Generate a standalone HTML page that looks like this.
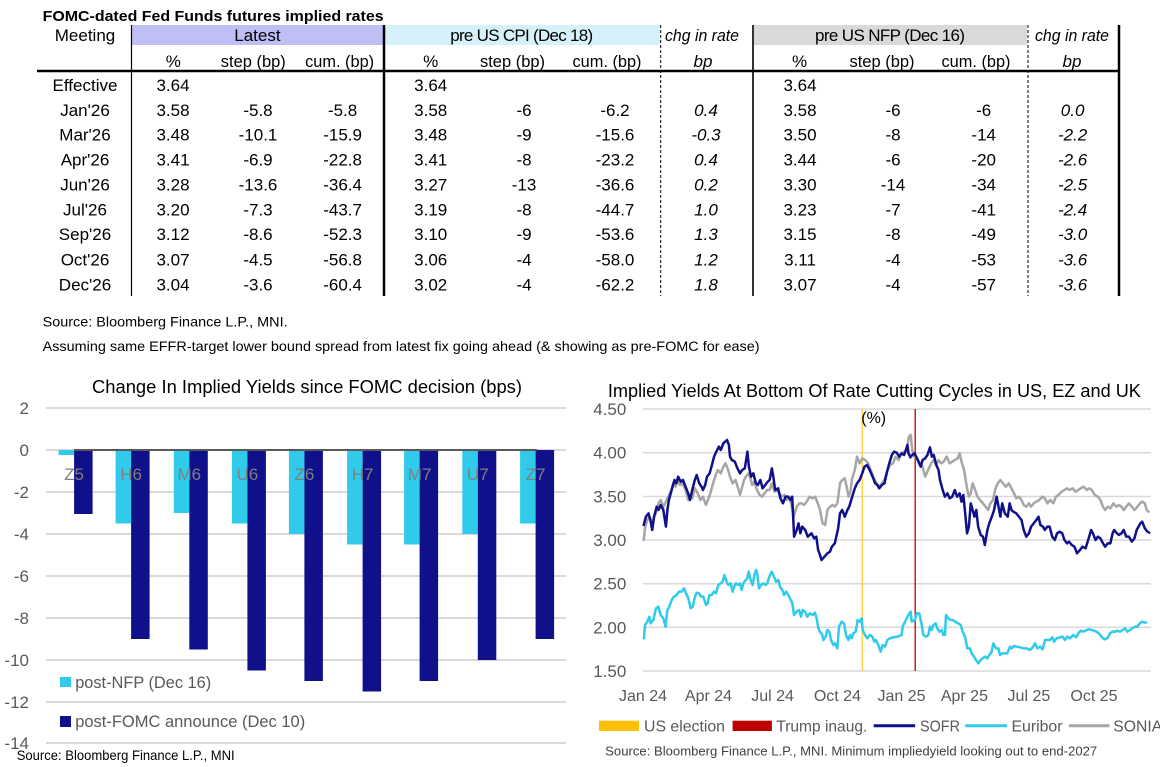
<!DOCTYPE html>
<html><head><meta charset="utf-8"><style>
html,body{margin:0;padding:0;background:#fff;}
svg{display:block;font-family:"Liberation Sans",Arial,sans-serif;}
</style></head><body>
<svg width="1160" height="767" viewBox="0 0 1160 767" xmlns="http://www.w3.org/2000/svg">
<rect width="1160" height="767" fill="#fff"/>
<!-- TABLE -->
<text x="42.6" y="21" font-size="15" font-weight="bold" textLength="341" lengthAdjust="spacingAndGlyphs">FOMC-dated Fed Funds futures implied rates</text>
<rect x="131.5" y="25" width="252" height="20" fill="#BFBFF6"/>
<rect x="385" y="25" width="275" height="20" fill="#D5F2FA"/>
<rect x="754" y="25" width="273" height="20" fill="#D9D9D9"/>
<g font-size="17" text-anchor="middle" fill="#000">
<text x="85" y="41">Meeting</text>
<text x="257.4" y="41">Latest</text>
<text x="521.7" y="41" textLength="143" lengthAdjust="spacing">pre US CPI (Dec 18)</text>
<text x="702" y="41" font-style="italic" textLength="74" lengthAdjust="spacingAndGlyphs">chg in rate</text>
<text x="890" y="41" textLength="150" lengthAdjust="spacing">pre US NFP (Dec 16)</text>
<text x="1072" y="41" font-style="italic" textLength="74" lengthAdjust="spacingAndGlyphs">chg in rate</text>
<text x="173.3" y="67">%</text>
<text x="253.3" y="67" textLength="65" lengthAdjust="spacingAndGlyphs">step (bp)</text>
<text x="339.6" y="67" textLength="69" lengthAdjust="spacingAndGlyphs">cum. (bp)</text>
<text x="430.7" y="67">%</text>
<text x="512.5" y="67" textLength="65" lengthAdjust="spacingAndGlyphs">step (bp)</text>
<text x="607" y="67" textLength="69" lengthAdjust="spacingAndGlyphs">cum. (bp)</text>
<text x="703" y="67" font-style="italic">bp</text>
<text x="799.6" y="67">%</text>
<text x="882" y="67" textLength="65" lengthAdjust="spacingAndGlyphs">step (bp)</text>
<text x="976" y="67" textLength="69" lengthAdjust="spacingAndGlyphs">cum. (bp)</text>
<text x="1072" y="67" font-style="italic">bp</text>
</g>
<line x1="37" y1="71" x2="1120" y2="71" stroke="#000" stroke-width="2.5"/>
<line x1="131.5" y1="25" x2="131.5" y2="296" stroke="#000" stroke-width="1.2"/>
<line x1="384" y1="25" x2="384" y2="296" stroke="#000" stroke-width="2.5"/>
<line x1="660.7" y1="25" x2="660.7" y2="296" stroke="#000" stroke-width="1" stroke-dasharray="3,2"/>
<line x1="753" y1="25" x2="753" y2="296" stroke="#000" stroke-width="1.6"/>
<line x1="1028" y1="25" x2="1028" y2="296" stroke="#000" stroke-width="1" stroke-dasharray="3,2"/>
<line x1="1119" y1="25" x2="1119" y2="296" stroke="#000" stroke-width="2.5"/>
<g font-size="17" text-anchor="middle" fill="#000">
<text x="85" y="91">Effective</text><text x="173" y="91">3.64</text><text x="430.7" y="91">3.64</text><text x="800" y="91">3.64</text>
<text x="85" y="116">Jan'26</text><text x="173" y="116">3.58</text><text x="258" y="116">-5.8</text><text x="342.6" y="116">-5.8</text><text x="430.7" y="116">3.58</text><text x="524" y="116">-6</text><text x="615" y="116">-6.2</text><text x="706" y="116" font-style="italic">0.4</text><text x="800" y="116">3.58</text><text x="893" y="116">-6</text><text x="983.7" y="116">-6</text><text x="1072.6" y="116" font-style="italic">0.0</text>
<text x="85" y="140.5">Mar'26</text><text x="173" y="140.5">3.48</text><text x="258" y="140.5">-10.1</text><text x="342.6" y="140.5">-15.9</text><text x="430.7" y="140.5">3.48</text><text x="524" y="140.5">-9</text><text x="615" y="140.5">-15.6</text><text x="706" y="140.5" font-style="italic">-0.3</text><text x="800" y="140.5">3.50</text><text x="893" y="140.5">-8</text><text x="983.7" y="140.5">-14</text><text x="1072.6" y="140.5" font-style="italic">-2.2</text>
<text x="85" y="165.3">Apr'26</text><text x="173" y="165.3">3.41</text><text x="258" y="165.3">-6.9</text><text x="342.6" y="165.3">-22.8</text><text x="430.7" y="165.3">3.41</text><text x="524" y="165.3">-8</text><text x="615" y="165.3">-23.2</text><text x="706" y="165.3" font-style="italic">0.4</text><text x="800" y="165.3">3.44</text><text x="893" y="165.3">-6</text><text x="983.7" y="165.3">-20</text><text x="1072.6" y="165.3" font-style="italic">-2.6</text>
<text x="85" y="190.3">Jun'26</text><text x="173" y="190.3">3.28</text><text x="258" y="190.3">-13.6</text><text x="342.6" y="190.3">-36.4</text><text x="430.7" y="190.3">3.27</text><text x="524" y="190.3">-13</text><text x="615" y="190.3">-36.6</text><text x="706" y="190.3" font-style="italic">0.2</text><text x="800" y="190.3">3.30</text><text x="893" y="190.3">-14</text><text x="983.7" y="190.3">-34</text><text x="1072.6" y="190.3" font-style="italic">-2.5</text>
<text x="85" y="215.3">Jul'26</text><text x="173" y="215.3">3.20</text><text x="258" y="215.3">-7.3</text><text x="342.6" y="215.3">-43.7</text><text x="430.7" y="215.3">3.19</text><text x="524" y="215.3">-8</text><text x="615" y="215.3">-44.7</text><text x="706" y="215.3" font-style="italic">1.0</text><text x="800" y="215.3">3.23</text><text x="893" y="215.3">-7</text><text x="983.7" y="215.3">-41</text><text x="1072.6" y="215.3" font-style="italic">-2.4</text>
<text x="85" y="240">Sep'26</text><text x="173" y="240">3.12</text><text x="258" y="240">-8.6</text><text x="342.6" y="240">-52.3</text><text x="430.7" y="240">3.10</text><text x="524" y="240">-9</text><text x="615" y="240">-53.6</text><text x="706" y="240" font-style="italic">1.3</text><text x="800" y="240">3.15</text><text x="893" y="240">-8</text><text x="983.7" y="240">-49</text><text x="1072.6" y="240" font-style="italic">-3.0</text>
<text x="85" y="265.3">Oct'26</text><text x="173" y="265.3">3.07</text><text x="258" y="265.3">-4.5</text><text x="342.6" y="265.3">-56.8</text><text x="430.7" y="265.3">3.06</text><text x="524" y="265.3">-4</text><text x="615" y="265.3">-58.0</text><text x="706" y="265.3" font-style="italic">1.2</text><text x="800" y="265.3">3.11</text><text x="893" y="265.3">-4</text><text x="983.7" y="265.3">-53</text><text x="1072.6" y="265.3" font-style="italic">-3.6</text>
<text x="85" y="290.3">Dec'26</text><text x="173" y="290.3">3.04</text><text x="258" y="290.3">-3.6</text><text x="342.6" y="290.3">-60.4</text><text x="430.7" y="290.3">3.02</text><text x="524" y="290.3">-4</text><text x="615" y="290.3">-62.2</text><text x="706" y="290.3" font-style="italic">1.8</text><text x="800" y="290.3">3.07</text><text x="893" y="290.3">-4</text><text x="983.7" y="290.3">-57</text><text x="1072.6" y="290.3" font-style="italic">-3.6</text>
</g>
<text x="42.6" y="326.5" font-size="14" textLength="245" lengthAdjust="spacingAndGlyphs">Source: Bloomberg Finance L.P., MNI.</text>
<text x="42.6" y="351" font-size="14" textLength="717" lengthAdjust="spacingAndGlyphs">Assuming same  EFFR-target lower bound spread from latest fix going ahead (&amp; showing as pre-FOMC for ease)</text>

<!-- LEFT CHART -->
<text x="307" y="393" font-size="18" text-anchor="middle" fill="#000" textLength="430" lengthAdjust="spacingAndGlyphs">Change In Implied Yields since FOMC decision (bps)</text>
<g stroke="#D9D9D9" stroke-width="2">
<line x1="46" y1="408" x2="566" y2="408"/><line x1="46" y1="450" x2="566" y2="450"/><line x1="46" y1="492" x2="566" y2="492"/><line x1="46" y1="534" x2="566" y2="534"/><line x1="46" y1="576" x2="566" y2="576"/><line x1="46" y1="618" x2="566" y2="618"/><line x1="46" y1="660" x2="566" y2="660"/><line x1="46" y1="702" x2="566" y2="702"/><line x1="46" y1="743" x2="566" y2="743"/>
</g>
<g font-size="17" fill="#595959" text-anchor="end">
<text x="29" y="414">2</text><text x="29" y="456">0</text><text x="29" y="498">-2</text><text x="29" y="540">-4</text><text x="29" y="582">-6</text><text x="29" y="624">-8</text><text x="29" y="666">-10</text><text x="29" y="708">-12</text><text x="29" y="749">-14</text>
</g>
<g fill="#30CBEA">
<rect x="58.6" y="450" width="15.5" height="5"/>
<rect x="115.6" y="450" width="15.5" height="73.5"/>
<rect x="173.8" y="450" width="15.5" height="63"/>
<rect x="231.9" y="450" width="15.5" height="73.5"/>
<rect x="288.9" y="450" width="15.5" height="84"/>
<rect x="347.1" y="450" width="15.5" height="94.5"/>
<rect x="404.1" y="450" width="15.5" height="94.5"/>
<rect x="462.3" y="450" width="15.5" height="84"/>
<rect x="520.1" y="450" width="15.5" height="73.5"/>
</g>
<g fill="#10118A">
<rect x="74.1" y="450" width="18.5" height="64"/>
<rect x="131.1" y="450" width="18.5" height="189"/>
<rect x="189.3" y="450" width="18.5" height="199.5"/>
<rect x="247.4" y="450" width="18.5" height="220.5"/>
<rect x="304.4" y="450" width="18.5" height="231"/>
<rect x="362.6" y="450" width="18.5" height="241.5"/>
<rect x="419.6" y="450" width="18.5" height="231"/>
<rect x="477.8" y="450" width="18.5" height="210"/>
<rect x="535.6" y="450" width="18.5" height="189"/>
</g>
<line x1="74" y1="450" x2="537" y2="450" stroke="#595959" stroke-width="2"/>
<g font-size="17" fill="#7F7F7F" text-anchor="middle">
<text x="74.1" y="480">Z5</text><text x="131.1" y="480">H6</text><text x="189.3" y="480">M6</text><text x="247.4" y="480">U6</text><text x="304.4" y="480">Z6</text><text x="362.6" y="480">H7</text><text x="419.6" y="480">M7</text><text x="477.8" y="480">U7</text><text x="535.6" y="480">Z7</text>
</g>
<rect x="60" y="677" width="11" height="10" fill="#30CBEA"/>
<text x="75.2" y="688" font-size="17" fill="#595959" textLength="136" lengthAdjust="spacingAndGlyphs">post-NFP (Dec 16)</text>
<rect x="60" y="716" width="11" height="11" fill="#10118A"/>
<text x="75.2" y="727" font-size="17" fill="#595959" textLength="230" lengthAdjust="spacingAndGlyphs">post-FOMC announce (Dec 10)</text>
<text x="16.7" y="760" font-size="14" fill="#000" textLength="218" lengthAdjust="spacingAndGlyphs">Source: Bloomberg Finance L.P., MNI</text>

<!-- RIGHT CHART -->
<text x="874.4" y="397" font-size="18" text-anchor="middle" fill="#000" textLength="533" lengthAdjust="spacingAndGlyphs">Implied Yields At Bottom Of Rate Cutting Cycles in US, EZ and UK</text>
<g stroke="#D9D9D9" stroke-width="1.5">
<line x1="643" y1="409" x2="1151" y2="409"/><line x1="643" y1="452.7" x2="1151" y2="452.7"/><line x1="643" y1="496.5" x2="1151" y2="496.5"/><line x1="643" y1="540" x2="1151" y2="540"/><line x1="643" y1="583.7" x2="1151" y2="583.7"/><line x1="643" y1="627.3" x2="1151" y2="627.3"/><line x1="643" y1="671" x2="1151" y2="671"/>
</g>
<g font-size="17" fill="#595959" text-anchor="end">
<text x="626.3" y="415">4.50</text><text x="626.3" y="458.7">4.00</text><text x="626.3" y="502.5">3.50</text><text x="626.3" y="546">3.00</text><text x="626.3" y="589.7">2.50</text><text x="626.3" y="633.3">2.00</text><text x="626.3" y="677">1.50</text>
</g>
<g font-size="16" fill="#595959" text-anchor="middle">
<text x="643" y="701">Jan 24</text><text x="708.5" y="701">Apr 24</text><text x="772.6" y="701">Jul 24</text><text x="837.4" y="701">Oct 24</text><text x="901.5" y="701">Jan 25</text><text x="964.4" y="701">Apr 25</text><text x="1028.9" y="701">Jul 25</text><text x="1094" y="701">Oct 25</text>
</g>
<line x1="862.2" y1="409" x2="862.2" y2="671" stroke="#FFC000" stroke-width="1"/>
<line x1="915.2" y1="409" x2="915.2" y2="671" stroke="#C00000" stroke-width="1.3"/>
<text x="873.7" y="423" font-size="16" text-anchor="middle" fill="#000">(%)</text>
<g transform="translate(580,370) scale(0.37037,0.33333)" fill="none" stroke-linejoin="round" stroke-linecap="round">
<polyline vector-effect="non-scaling-stroke" stroke="#A6A6A6" stroke-width="2.5" points="172,510 176,470 182,450 188,440 195,465 200,440 205,430 212,400 218,390 225,410 230,400 238,380 245,365 252,340 258,350 265,330 270,345 277,340 285,360 292,390 297,375 303,385 310,355 318,370 325,390 332,380 340,405 347,385 352,370 358,345 365,320 372,300 380,310 387,290 393,280 400,300 405,320 412,340 420,330 427,355 432,375 438,350 443,330 448,320 455,310 460,325 465,345 470,335 478,360 485,375 492,380 498,370 505,360 512,360 518,340 525,365 532,360 538,370 545,380 552,375 558,390 565,380 570,400 577,440 585,410 592,400 598,400 605,405 612,395 620,380 628,385 635,380 642,400 648,420 655,460 662,465 668,420 675,410 682,405 688,410 695,400 702,340 708,330 715,325 720,350 725,380 730,365 735,325 742,300 748,260 755,280 762,265 770,270 778,280 785,300 792,320 800,340 808,350 815,340 822,330 830,300 837,285 845,280 852,260 860,270 868,250 875,245 882,240 888,200 893,195 897,240 903,260 910,265 918,280 925,290 932,320 940,300 948,280 955,270 962,285 968,270 975,280 982,275 990,260 998,280 1005,275 1012,270 1020,265 1025,250 1030,275 1037,300 1045,355 1050,380 1055,370 1060,340 1067,360 1073,380 1080,390 1088,400 1095,410 1102,420 1108,400 1115,390 1122,355 1128,340 1135,330 1142,340 1150,350 1158,340 1165,355 1172,370 1178,385 1185,380 1192,390 1198,405 1205,410 1212,400 1218,410 1225,400 1232,395 1240,390 1248,380 1255,385 1262,400 1270,390 1278,400 1285,380 1292,375 1300,365 1308,360 1315,355 1322,360 1330,355 1338,365 1345,360 1352,355 1360,350 1368,360 1375,355 1382,360 1390,375 1398,380 1405,390 1412,410 1418,420 1425,410 1432,415 1440,400 1448,410 1455,405 1462,410 1468,420 1475,410 1482,400 1490,410 1497,420 1505,410 1512,400 1518,395 1525,400 1530,420 1535,425"/>
<polyline vector-effect="non-scaling-stroke" stroke="#10118A" stroke-width="2.5" points="172,465 178,440 185,430 190,450 195,480 200,440 207,410 212,420 218,405 225,420 232,470 236,420 240,390 245,370 250,350 255,330 260,340 265,320 272,335 278,330 285,350 292,370 297,390 303,360 310,330 315,315 322,340 328,350 332,360 338,345 343,320 350,310 355,290 362,260 368,245 375,230 380,240 387,220 392,215 397,210 402,225 405,260 410,270 418,275 425,295 432,310 438,300 445,295 452,245 456,290 462,320 468,310 475,340 480,345 487,330 493,355 500,345 507,335 512,330 518,295 522,320 527,360 535,355 541,385 548,400 555,380 562,380 568,390 573,380 578,500 585,480 590,460 595,490 600,470 608,480 615,500 625,490 632,505 638,500 643,540 648,555 652,570 660,560 668,550 675,545 680,530 688,520 692,500 697,475 702,430 708,420 715,440 722,420 727,410 735,380 742,355 748,340 755,330 762,310 768,290 775,285 782,300 790,320 797,340 803,345 808,355 815,345 822,340 828,310 835,280 842,255 848,245 855,248 862,260 868,250 875,255 880,240 884,225 887,250 892,262 897,255 903,250 910,265 915,278 920,290 925,270 932,265 938,255 945,232 950,260 955,255 962,285 968,300 972,330 978,355 985,380 992,370 998,385 1005,380 1012,360 1018,380 1025,370 1030,395 1035,375 1040,430 1045,490 1050,470 1055,400 1060,420 1065,440 1070,420 1075,470 1082,495 1088,500 1093,525 1100,480 1105,460 1112,440 1118,420 1125,380 1130,410 1135,440 1140,400 1147,430 1155,440 1160,400 1165,420 1170,425 1178,430 1185,440 1192,450 1198,480 1205,500 1212,490 1218,470 1225,460 1232,450 1238,440 1243,465 1250,470 1255,480 1262,470 1268,470 1275,500 1282,510 1288,490 1295,485 1302,490 1308,510 1315,520 1320,515 1328,525 1335,530 1342,550 1350,540 1357,530 1365,535 1372,510 1380,480 1385,490 1392,510 1398,500 1405,505 1412,520 1418,530 1425,520 1432,520 1438,490 1442,480 1448,488 1455,495 1462,490 1468,480 1475,500 1482,500 1490,515 1497,505 1503,480 1508,470 1513,460 1518,455 1525,475 1532,485 1537,488"/>
</g>
<g transform="translate(630,560) scale(0.33333)" fill="none" stroke-linejoin="round" stroke-linecap="round">
<polyline vector-effect="non-scaling-stroke" stroke="#30CBEA" stroke-width="2.5" points="42,235 45,195 52,185 58,170 62,190 70,180 78,145 85,140 92,165 100,175 107,200 112,150 118,140 125,120 132,110 140,105 147,95 155,95 162,85 168,100 175,115 182,145 188,140 195,110 200,98 207,100 213,110 220,110 228,135 233,130 238,105 245,105 252,95 258,100 265,75 272,70 278,65 283,45 290,65 295,75 302,70 308,95 312,80 318,70 325,75 330,70 335,90 340,70 347,60 352,55 356,35 362,60 368,75 373,45 378,30 382,45 387,85 393,75 400,70 407,75 412,70 418,50 425,35 432,50 438,65 445,60 450,80 457,90 462,105 468,95 475,105 480,115 487,130 492,165 500,155 507,150 513,170 518,150 525,155 532,170 540,160 548,165 555,158 560,175 565,205 570,215 577,225 580,240 587,230 592,210 598,215 603,240 610,255 615,250 622,265 627,200 635,185 642,190 648,225 655,240 660,225 665,235 670,220 677,215 683,180 690,185 695,175 698,210 705,225 712,235 720,225 727,230 733,245 738,240 745,255 752,275 758,255 765,260 772,240 780,235"/>
</g>
<g transform="translate(890,560) scale(0.33333)" fill="none" stroke-linejoin="round" stroke-linecap="round">
<polyline vector-effect="non-scaling-stroke" stroke="#30CBEA" stroke-width="2.5" points="0,235 10,232 22,230 35,225 38,200 45,185 55,165 62,155 65,185 75,180 80,160 88,160 95,195 100,225 108,230 115,225 120,200 125,210 130,195 137,190 142,205 148,215 155,210 160,225 165,225 168,165 175,175 182,180 188,180 195,185 205,190 212,195 218,215 225,230 232,265 240,265 245,280 252,290 258,300 265,310 272,300 278,295 285,290 292,295 298,285 305,275 310,250 318,265 325,265 330,285 337,280 345,280 352,280 360,260 365,265 372,258 380,260 390,262 400,265 410,265 420,270 428,262 435,250 442,265 450,260 458,268 465,240 472,240 480,240 487,232 492,245 500,235 510,232 518,230 525,240 532,230 540,235 550,225 558,232 565,220 572,212 580,215 590,210 598,208 605,210 612,212 620,215 628,222 636,232 644,238 652,235 660,220 668,215 675,215 682,212 690,215 698,210 705,205 712,215 720,210 727,205 735,200 742,200 748,192 755,185 762,187 768,188"/>
</g>
<!-- right legend -->
<rect x="599" y="720.7" width="40" height="10.3" fill="#FFC000"/>
<text x="644" y="731.5" font-size="16" fill="#595959" textLength="81" lengthAdjust="spacingAndGlyphs">US election</text>
<rect x="732.6" y="720.7" width="39.3" height="10.3" fill="#C00000"/>
<text x="776.3" y="731.5" font-size="16" fill="#595959" textLength="91" lengthAdjust="spacingAndGlyphs">Trump inaug.</text>
<line x1="873.7" y1="725.8" x2="915.2" y2="725.8" stroke="#10118A" stroke-width="3"/>
<text x="920" y="731.5" font-size="16" fill="#595959" textLength="40" lengthAdjust="spacingAndGlyphs">SOFR</text>
<line x1="965.2" y1="725.8" x2="1007" y2="725.8" stroke="#30CBEA" stroke-width="3"/>
<text x="1011.5" y="731.5" font-size="16" fill="#595959" textLength="51" lengthAdjust="spacingAndGlyphs">Euribor</text>
<line x1="1068.9" y1="725.8" x2="1109.6" y2="725.8" stroke="#A6A6A6" stroke-width="3"/>
<text x="1113.3" y="731.5" font-size="16" fill="#595959" textLength="49" lengthAdjust="spacingAndGlyphs">SONIA</text>
<text x="605.2" y="755.5" font-size="13" fill="#404040" textLength="492" lengthAdjust="spacingAndGlyphs">Source: Bloomberg Finance L.P., MNI. Minimum impliedyield looking out to end-2027</text>
</svg>
</body></html>
